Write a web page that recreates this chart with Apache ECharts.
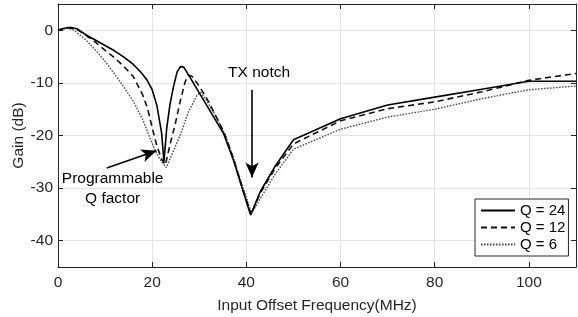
<!DOCTYPE html>
<html>
<head>
<meta charset="utf-8">
<script src="https://cdn.jsdelivr.net/npm/echarts@6/dist/echarts.min.js"></script>
<style>html,body{margin:0;padding:0;background:#fff}#c{width:578px;height:317px}</style>
</head>
<body>
<div id="c"></div>
<script>
const seriesNames = ['Q = 24', 'Q = 12', 'Q = 6'];

const q24X = [0,1,2,3,4,5,6,8,10,12,14,16,17,18,19,20,21,22,22.5,23.1,23.8,24.5,25.3,26,26.7,28,30,32,35.2,37.3,39.1,40.9,43,46,49.7,50,60,70,80,90,100,110];
const q24Y = [0,0.3,0.5,0.5,0.3,-0.3,-0.9,-1.9,-2.9,-3.9,-5.1,-6.5,-7.4,-8.4,-9.6,-11.3,-14.3,-19.5,-25,-18.5,-14,-10.8,-7.9,-6.9,-7,-8.9,-11.9,-14.9,-19.7,-24.8,-30,-35.1,-30.6,-26,-21.2,-20.8,-16.8,-14.2,-12.7,-11.2,-9.7,-9.7];

const q12X = [0,1,2,3,4,6,8,10,12,14,16,18,19,20,21,22,22.8,23.8,24.9,26,27,27.7,28.5,29.5,30.2,32,35.2,37.3,39.1,41,43,46,50,60,70,80,90,100,110];
const q12Y = [0,0.3,0.5,0.4,0.2,-1,-2.3,-3.8,-5.2,-6.9,-8.8,-12.3,-14.8,-18.5,-22,-24.5,-25.6,-21.7,-17.8,-13.3,-9.8,-8.5,-8.8,-10,-10.9,-13.6,-19.3,-24.5,-29.8,-35,-30.9,-26.4,-21.6,-17.2,-14.9,-13.6,-11.7,-9.5,-8.2];

const q6X = [0,1,2,3,4,6,8,10,12,14,16,18,20,21,22,23,24.5,26,27.7,29.5,30.3,31,33,35.5,37.5,39.3,41.1,43.3,46,50,60,70,80,90,100,110];
const q6Y = [0,0.3,0.4,0.2,-0.4,-1.9,-3.8,-5.9,-8.3,-10.8,-13.5,-17,-21.5,-23.5,-25,-26.1,-23,-19.8,-15.5,-12.4,-11.8,-12.6,-15.5,-19.8,-25,-30,-34.8,-31.5,-27.5,-22.6,-18.8,-16.5,-15,-13,-11.3,-10.6];

const xTicks = [0,20,40,60,80,100];
const yTicks = [-40,-30,-20,-10,0];

const txArrow = [[41.2,-11.3],[41.2,-28.0]];
const qArrow = [[10.35,-26.2],[20.9,-22.9]];
const txLabelPos = [42.7,-8.1];
const qLabelPos = [11.6,-30.1];

const zip = (xs, ys) => xs.map((x, i) => [x, ys[i]]);
const FONT = 'Liberation Sans';
const TXT = '#262626';
const FS = 15.5;

const chart = echarts.init(document.getElementById('c'), null, {renderer: 'canvas'});

const arrowLine = (pts) => [{coord: pts[0], symbol: 'none'}, {coord: pts[1], symbol: 'arrow', symbolSize: [10, 15]}];
const axisLineStyle = {show: true, onZero: false, lineStyle: {color: '#262626', width: 1}};
const tickStyle = {show: true, inside: true, length: 5, lineStyle: {color: '#262626'}};

const option = {
  animation: false,
  backgroundColor: '#fff',
  textStyle: {fontFamily: FONT, color: TXT},
  grid: {left: 58, right: 2, top: 4, bottom: 50, containLabel: false, outerBoundsMode: 'none'},
  legend: {
    orient: 'vertical',
    left: 475, top: 199,
    data: seriesNames,
    backgroundColor: '#fff',
    borderColor: '#262626', borderWidth: 1, borderRadius: 0,
    padding: [4, 3, 4, 5],
    itemGap: 2,
    itemWidth: 34, itemHeight: 15,
    itemStyle: {color: 'rgba(0,0,0,0)', borderWidth: 0, opacity: 0},
    textStyle: {fontFamily: FONT, fontSize: 15, color: '#000'},
    selectedMode: false
  },
  xAxis: [{
    type: 'value', min: 0, max: 110, interval: 20,
    name: 'Input Offset Frequency(MHz)', nameLocation: 'middle', nameGap: 31,
    nameTextStyle: {fontFamily: FONT, fontSize: FS, color: TXT},
    axisLine: axisLineStyle,
    axisTick: tickStyle,
    axisLabel: {fontFamily: FONT, fontSize: FS, color: TXT, margin: 8, showMaxLabel: false,
      formatter: v => xTicks.includes(v) ? String(v) : ''},
    splitLine: {show: true, lineStyle: {color: '#e3e3e3', width: 1}}
  }, {
    type: 'value', min: 0, max: 110, interval: 20, position: 'top',
    axisLine: axisLineStyle,
    axisTick: tickStyle,
    axisLabel: {show: false}, splitLine: {show: false}
  }],
  yAxis: [{
    type: 'value', min: -45, max: 5,
    name: 'Gain (dB)', nameLocation: 'middle', nameGap: 31, nameMoveOverlap: false,
    nameTextStyle: {fontFamily: FONT, fontSize: FS, color: TXT},
    axisLine: axisLineStyle,
    axisTick: tickStyle,
    axisLabel: {fontFamily: FONT, fontSize: FS, color: TXT, margin: 5, showMinLabel: false, showMaxLabel: false,
      formatter: v => yTicks.includes(v) ? String(v) : ''},
    splitLine: {show: true, lineStyle: {color: '#e3e3e3', width: 1}}
  }, {
    type: 'value', min: -45, max: 5, position: 'right',
    axisLine: axisLineStyle,
    axisTick: tickStyle,
    axisLabel: {show: false}, splitLine: {show: false}
  }],
  series: [
    {
      name: seriesNames[0], type: 'line', data: zip(q24X, q24Y), symbol: 'none', z: 5,
      lineStyle: {color: '#000', width: 1.6, type: 'solid'},
      itemStyle: {color: '#000'},
      markLine: {
        silent: true, animation: false,
        label: {show: false},
        lineStyle: {color: '#000', width: 1.6, type: 'solid'},
        emphasis: {disabled: true},
        data: [arrowLine(txArrow), arrowLine(qArrow)]
      }
    },
    {
      name: seriesNames[1], type: 'line', data: zip(q12X, q12Y), symbol: 'none', z: 4,
      lineStyle: {color: '#111', width: 1.6, type: [6, 4]},
      itemStyle: {color: '#111'}
    },
    {
      name: seriesNames[2], type: 'line', data: zip(q6X, q6Y), symbol: 'none', z: 3,
      lineStyle: {color: '#444', width: 1.4, type: [1.5, 1.5]},
      itemStyle: {color: '#444'}
    }
  ]
};
chart.setOption(option);

const p1 = chart.convertToPixel({xAxisIndex: 0, yAxisIndex: 0}, txLabelPos);
const p2 = chart.convertToPixel({xAxisIndex: 0, yAxisIndex: 0}, qLabelPos);
chart.setOption({
  graphic: [
    {type: 'text', x: p1[0], y: p1[1], z: 10,
      style: {text: 'TX notch', fontFamily: FONT, fontSize: FS, fill: '#000', align: 'center', verticalAlign: 'middle'}},
    {type: 'text', x: p2[0], y: p2[1], z: 10,
      style: {text: 'Programmable\nQ factor', fontFamily: FONT, fontSize: FS, lineHeight: 20, fill: '#000', align: 'center', verticalAlign: 'middle'}}
  ]
});
</script>
</body>
</html>
